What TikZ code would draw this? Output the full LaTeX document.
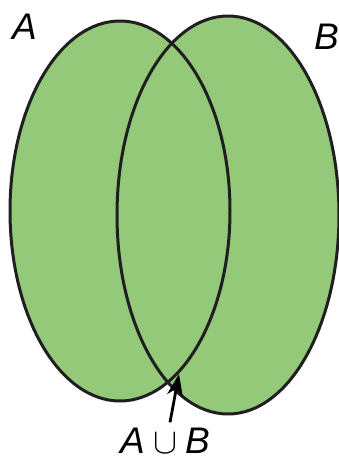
\documentclass[tikz,border=0pt]{standalone}
\usepackage{fontspec}
\setmainfont{Liberation Sans}
\usetikzlibrary{arrows.meta}
\definecolor{setgreen}{RGB}{148,201,122}

\begin{document}
\begin{tikzpicture}[x=1pt,y=-1pt,
  setline/.style={line width=3pt,black!88},
  setlabel/.style={font=\fontsize{37}{42}\selectfont\itshape,inner sep=0pt}]
\useasboundingbox (0,0) rectangle (339,461);
\fill[setgreen] (120,211) ellipse [x radius=110,y radius=190];
\fill[setgreen] (228,215) ellipse [x radius=111,y radius=199];
\draw[setline] (120,211) ellipse [x radius=110,y radius=190];
\draw[setline] (228,215) ellipse [x radius=111,y radius=199];
\node[setlabel] (labA) at (25,27) {A};
\node[setlabel] (labB) at (327,37) {B};
\node[setlabel,anchor=base] (union) at (165,453) {A\hspace{8pt}\scalebox{3.6}{\fontsize{10}{12}\selectfont$\cup$}\hspace{8pt}B};
\coordinate (meet) at (179,374);
\draw[-{Stealth[length=22pt,width=16pt]},line width=2.8pt,black] (union.north -| 170,0) ++(0,-5) -- (meet);
\end{tikzpicture}
\end{document}
